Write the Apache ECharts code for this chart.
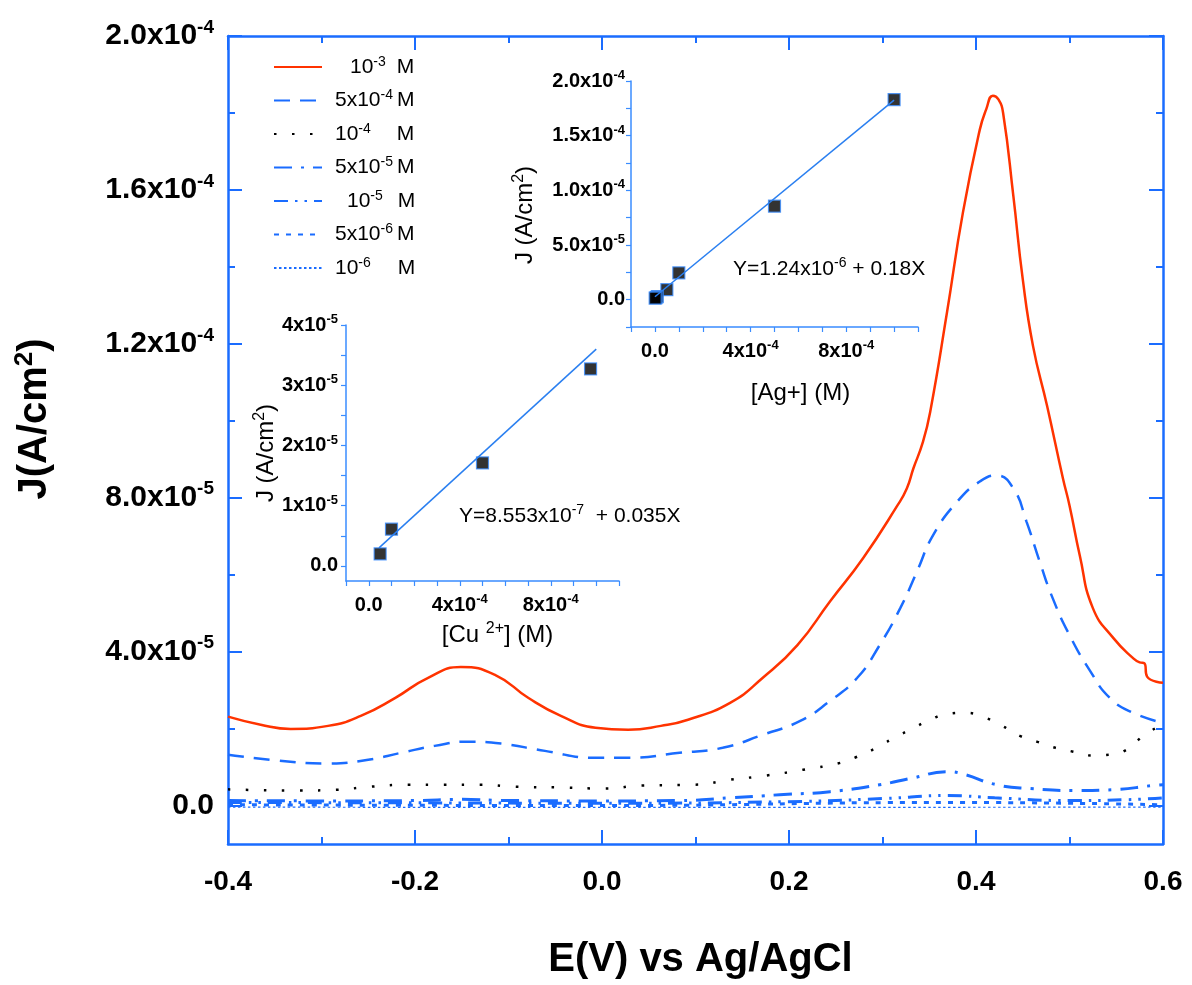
<!DOCTYPE html>
<html><head><meta charset="utf-8">
<script src="https://cdn.jsdelivr.net/npm/echarts@6/dist/echarts.min.js"></script>
<style>html,body{margin:0;padding:0;background:#fff}#c{width:1192px;height:985px}</style>
</head><body><div id="c"></div>
<script>
// ---------- DATA (E in V, J in units of 1e-5 A/cm2) ----------
const seriesKeys = ['1e-3', '5e-4', '1e-4', '5e-5', '1e-5', '5e-6', '1e-6'];
const red_1e3 = [[-0.40,2.31],[-0.365,2.10],[-0.333,1.99],[-0.293,2.07],[-0.258,2.33],[-0.221,2.80],[-0.186,3.32],[-0.151,3.60],[-0.114,3.39],[-0.079,2.80],[-0.044,2.33],[-0.007,2.02],[0.028,1.97],[0.063,2.07],[0.092,2.23],[0.137,2.67],[0.172,3.32],[0.209,4.17],[0.244,5.31],[0.279,6.42],[0.316,7.80],[0.326,8.24],[0.333,8.76],[0.343,9.43],[0.351,10.23],[0.369,12.82],[0.386,15.41],[0.404,17.56],[0.411,18.10],[0.418,18.45],[0.424,18.35],[0.429,18.0],[0.440,15.83],[0.450,13.68],[0.461,11.94],[0.476,10.39],[0.493,8.50],[0.500,7.80],[0.511,6.50],[0.525,5.13],[0.547,4.35],[0.568,3.83],[0.575,3.72],[0.580,3.70],[0.583,3.35],[0.600,3.19]];
const dash_5e4 = [[-0.40,1.32],[-0.347,1.17],[-0.293,1.09],[-0.250,1.19],[-0.215,1.37],[-0.179,1.55],[-0.143,1.66],[-0.108,1.61],[-0.061,1.42],[-0.008,1.24],[0.028,1.24],[0.083,1.37],[0.129,1.50],[0.172,1.84],[0.212,2.20],[0.244,2.72],[0.273,3.32],[0.297,4.17],[0.319,5.13],[0.337,6.09],[0.354,7.02],[0.380,7.90],[0.404,8.42],[0.422,8.58],[0.440,8.24],[0.454,7.38],[0.468,6.35],[0.482,5.39],[0.500,4.43],[0.522,3.50],[0.543,2.80],[0.568,2.41],[0.600,2.15]];
const dot_1e4 = [[-0.40,0.42],[-0.323,0.39],[-0.284,0.41],[-0.247,0.49],[-0.207,0.54],[-0.170,0.54],[-0.130,0.54],[-0.093,0.49],[-0.044,0.47],[0.003,0.44],[0.042,0.52],[0.099,0.54],[0.137,0.67],[0.176,0.78],[0.215,0.93],[0.255,1.11],[0.273,1.27],[0.292,1.48],[0.311,1.74],[0.332,2.00],[0.351,2.23],[0.369,2.38],[0.388,2.41],[0.407,2.31],[0.428,2.07],[0.447,1.81],[0.465,1.66],[0.485,1.50],[0.504,1.40],[0.524,1.30],[0.543,1.32],[0.561,1.45],[0.579,1.81],[0.600,2.12]];
const dashdot_5e5 = [[-0.40,0.13],[-0.30,0.12],[-0.20,0.13],[-0.15,0.16],[-0.10,0.13],[0.00,0.12],[0.083,0.13],[0.137,0.20],[0.190,0.28],[0.244,0.36],[0.297,0.54],[0.333,0.72],[0.369,0.88],[0.386,0.82],[0.422,0.54],[0.458,0.44],[0.511,0.39],[0.547,0.41],[0.589,0.52],[0.600,0.54]];
const dashdotdot_1e5 = [[-0.40,0.08],[-0.20,0.07],[0.00,0.06],[0.20,0.10],[0.30,0.18],[0.37,0.26],[0.42,0.20],[0.50,0.13],[0.56,0.15],[0.60,0.20]];
const short_5e6 = [[-0.40,0.02],[0.00,0.00],[0.37,0.08],[0.60,0.02]];
const fine_1e6 = [[-0.40,-0.04],[0.00,-0.05],[0.60,-0.04]];

// Inset Ag+: concentration in 1e-4 M, J in 1e-5 A/cm2
const agConc = [10, 5, 1, 0.5, 0.1, 0.05, 0.01];
const agJ = [18.3, 8.55, 2.45, 0.91, 0.28, 0.18, 0.14];
const agFit = [[0.0, 0.27], [10, 18.25]];
// Inset Cu2+
const cuConc = [0.5, 1, 5, 9.75];
const cuJ = [0.20, 0.61, 1.71, 3.27];
const cuFit = [[0.45, 0.30], [10, 3.60]];

// tick labels
const mainXTicks = [-0.4, -0.2, 0.0, 0.2, 0.4, 0.6];
const mainXText = ['-0.4', '-0.2', '0.0', '0.2', '0.4', '0.6'];
const mainYTicks = [0, 4, 8, 12, 16, 20];
const mainYText = [['0.0',''],['4.0x10','-5'],['8.0x10','-5'],['1.2x10','-4'],['1.6x10','-4'],['2.0x10','-4']];
const mainYMinor = [2, 6, 10, 14, 18];
const agYTicks = [0, 5, 10, 15, 20];
const agYText = [['0.0',''],['5.0x10','-5'],['1.0x10','-4'],['1.5x10','-4'],['2.0x10','-4']];
const cuYTicks = [0, 1, 2, 3, 4];
const cuYText = [['0.0',''],['1x10','-5'],['2x10','-5'],['3x10','-5'],['4x10','-5']];
const cuYMinorTicks = [0, 0.5, 1, 1.5, 2, 2.5, 3, 3.5, 4];
const insetXTicks = [0, 4, 8];
const insetXText = [['0.0',''],['4x10','-4'],['8x10','-4']];
const legendText = {
  '1e-3': ['', '10', '-3'], '5e-4': ['5x', '10', '-4'], '1e-4': ['', '10', '-4'],
  '5e-5': ['5x', '10', '-5'], '1e-5': ['', '10', '-5'], '5e-6': ['5x', '10', '-6'], '1e-6': ['', '10', '-6']
};

// ---------- STYLE ----------
const AX = '#1a6cff', RED = '#ff3300', BLUE = '#1a6cff', INS = '#3a8cff', FIT = '#2a7ff0';
const FONT = 'Liberation Sans, Arial, sans-serif';

function lookup(ticks, texts, v, bRich, sRich) {
  const i = ticks.findIndex(t => Math.abs(t - v) < 1e-6);
  if (i < 0) return '';
  const t = texts[i];
  return t[1] ? `{${bRich}|${t[0]}}{${sRich}|${t[1]}}` : `{${bRich}|${t[0]}}`;
}
const mainRich = {
  b: { fontSize: 30, fontWeight: 'bold', fontFamily: FONT, color: '#000', lineHeight: 36 },
  s: { fontSize: 19, fontWeight: 'bold', fontFamily: FONT, color: '#000', lineHeight: 19, verticalAlign: 'top' }
};
const insRich = {
  b: { fontSize: 20, fontWeight: 'bold', fontFamily: FONT, color: '#000', lineHeight: 24 },
  s: { fontSize: 13, fontWeight: 'bold', fontFamily: FONT, color: '#000', lineHeight: 13, verticalAlign: 'top' }
};
const nameRichBig = {
  t: { fontSize: 40, fontWeight: 'bold', fontFamily: FONT, color: '#000', lineHeight: 46 },
  s: { fontSize: 26, fontWeight: 'bold', fontFamily: FONT, color: '#000', lineHeight: 26, verticalAlign: 'top' }
};
const nameRichIns = {
  t: { fontSize: 24, fontFamily: FONT, color: '#000', lineHeight: 28 },
  s: { fontSize: 16, fontFamily: FONT, color: '#000', lineHeight: 16, verticalAlign: 'top' }
};

const legendGaps = { '1e-3': [23, 11], '5e-4': [8, 4], '1e-4': [8, 26], '5e-5': [8, 4], '1e-5': [20, 15], '5e-6': [8, 4], '1e-6': [8, 27] };
const legendRich = {
  n: { fontSize: 21, fontFamily: FONT, color: '#000', lineHeight: 24 },
  s: { fontSize: 14, fontFamily: FONT, color: '#000', lineHeight: 14, verticalAlign: 'top' }
};
[4, 8, 11, 15, 20, 23, 26, 27].forEach(w => { legendRich['g' + w] = { width: w, fontSize: 21, lineHeight: 24 }; });

const mainLines = [
  { key: '1e-3', data: red_1e3, color: RED, width: 2.5, type: 'solid' },
  { key: '5e-4', data: dash_5e4, color: BLUE, width: 2.5, type: [16, 10] },
  { key: '1e-4', data: dot_1e4, color: '#000', width: 2.5, type: [2.5, 15.5] },
  { key: '5e-5', data: dashdot_5e5, color: BLUE, width: 3, type: [18, 9, 3, 9] },
  { key: '1e-5', data: dashdotdot_1e5, color: BLUE, width: 3, type: [14, 7, 2.5, 7, 2.5, 7] },
  { key: '5e-6', data: short_5e6, color: BLUE, width: 3, type: [5, 7] },
  { key: '1e-6', data: fine_1e6, color: BLUE, width: 1.2, type: [2.5, 2.5] }
];

const tickStyle = { color: AX, width: 2 };
const markerStyle = { color: '#000', borderColor: INS, borderWidth: 1.2 };
const option = {
  backgroundColor: '#fff',
  animation: false,
  grid: [
    { left: 228, top: 36, width: 935, height: 812 },
    { left: 631, top: 81, width: 287, height: 246 },
    { left: 346, top: 325, width: 273, height: 256 }
  ],
  legend: {
    data: seriesKeys, orient: 'vertical', left: 268, top: 50, itemWidth: 48, itemHeight: 14, itemGap: 11,
    itemStyle: { color: 'rgba(0,0,0,0)', borderWidth: 0, opacity: 0 },
    textStyle: { rich: legendRich },
    formatter: k => {
      const t = legendText[k], g = legendGaps[k];
      return `{g${g[0]}| }` + (t[0] ? `{n|${t[0]}}` : '') + `{n|${t[1]}}{s|${t[2]}}{g${g[1]}| }{n|M}`;
    },
    selectedMode: false
  },
  xAxis: [
    { gridIndex: 0, type: 'value', position: 'bottom', min: -0.4, max: 0.6, interval: 0.2,
      axisLine: { onZero: false, lineStyle: { color: AX, width: 2.5 } }, splitLine: { show: false },
      axisTick: { inside: true, length: 14, lineStyle: tickStyle },
      minorTick: { show: true, splitNumber: 2, length: 7, lineStyle: tickStyle }, minorSplitLine: { show: false },
      axisLabel: { margin: 24, color: '#000', fontSize: 28, fontWeight: 'bold', fontFamily: FONT,
        formatter: v => { const i = mainXTicks.findIndex(t => Math.abs(t - v) < 1e-6); return i < 0 ? '' : mainXText[i]; } },
      name: 'E(V) vs Ag/AgCl', nameLocation: 'middle', nameGap: 96,
      nameTextStyle: { fontSize: 40, fontWeight: 'bold', fontFamily: FONT, color: '#000', padding: [0, 0, 0, 10] } },
    { gridIndex: 0, type: 'value', position: 'top', min: -0.4, max: 0.6, interval: 0.2,
      axisLine: { onZero: false, lineStyle: { color: AX, width: 2.5 } }, splitLine: { show: false },
      axisTick: { inside: true, length: 14, lineStyle: tickStyle },
      minorTick: { show: true, splitNumber: 2, length: 7, lineStyle: tickStyle }, minorSplitLine: { show: false },
      axisLabel: { show: false } },
    { gridIndex: 1, type: 'value', min: -1, max: 11, interval: 1,
      axisLine: { onZero: false, lineStyle: { color: INS, width: 1.5 } }, splitLine: { show: false },
      axisTick: { length: 5, lineStyle: { color: INS, width: 1.2 } },
      axisLabel: { customValues: insetXTicks, margin: 12, rich: insRich, formatter: v => lookup(insetXTicks, insetXText, v, 'b', 's') },
      name: '{t|[Ag+] (M)}', nameLocation: 'middle', nameGap: 52,
      nameTextStyle: { rich: nameRichIns, padding: [0, 0, 0, 52] } },
    { gridIndex: 2, type: 'value', min: -1, max: 11, interval: 1,
      axisLine: { onZero: false, lineStyle: { color: INS, width: 1.5 } }, splitLine: { show: false },
      axisTick: { length: 5, lineStyle: { color: INS, width: 1.2 } },
      axisLabel: { customValues: insetXTicks, margin: 12, rich: insRich, formatter: v => lookup(insetXTicks, insetXText, v, 'b', 's') },
      name: '{t|[Cu }{s|2+}{t|] (M)}', nameLocation: 'middle', nameGap: 40,
      nameTextStyle: { rich: nameRichIns, padding: [0, 0, 0, 30] } }
  ],
  yAxis: [
    { gridIndex: 0, type: 'value', position: 'left', min: -1, max: 20,
      axisLine: { onZero: false, lineStyle: { color: AX, width: 2.5 } }, splitLine: { show: false },
      axisTick: { inside: true, length: 14, customValues: mainYTicks, lineStyle: tickStyle },
      axisLabel: { customValues: mainYTicks, margin: 14, rich: mainRich, formatter: v => lookup(mainYTicks, mainYText, v, 'b', 's') },
      name: '{t|J(A/cm}{s|2}{t|)}', nameLocation: 'middle', nameGap: 170, nameRotate: 90,
      nameTextStyle: { rich: nameRichBig, padding: [0, 0, 0, 42] } },
    { gridIndex: 0, type: 'value', position: 'left', min: -1, max: 20,
      axisLine: { show: false, onZero: false }, splitLine: { show: false }, axisLabel: { show: false },
      axisTick: { inside: true, length: 7, customValues: mainYMinor, lineStyle: tickStyle } },
    { gridIndex: 0, type: 'value', position: 'right', min: -1, max: 20,
      axisLine: { onZero: false, lineStyle: { color: AX, width: 2.5 } }, splitLine: { show: false }, axisLabel: { show: false },
      axisTick: { inside: true, length: 14, customValues: mainYTicks, lineStyle: tickStyle } },
    { gridIndex: 0, type: 'value', position: 'right', min: -1, max: 20,
      axisLine: { show: false, onZero: false }, splitLine: { show: false }, axisLabel: { show: false },
      axisTick: { inside: true, length: 7, customValues: mainYMinor, lineStyle: tickStyle } },
    { gridIndex: 1, type: 'value', min: -2.5, max: 20, interval: 2.5,
      axisLine: { show: true, onZero: false, lineStyle: { color: INS, width: 1.5 } }, splitLine: { show: false },
      axisTick: { show: true, length: 5, lineStyle: { color: INS, width: 1.2 } },
      axisLabel: { customValues: agYTicks, margin: 6, rich: insRich, formatter: v => lookup(agYTicks, agYText, v, 'b', 's') },
      name: '{t|J (A/cm}{s|2}{t|)}', nameLocation: 'middle', nameGap: 92, nameRotate: 90,
      nameTextStyle: { rich: nameRichIns, padding: [0, 22, 0, 0] } },
    { gridIndex: 2, type: 'value', min: -0.25, max: 4,
      axisLine: { show: true, onZero: false, lineStyle: { color: INS, width: 1.5 } }, splitLine: { show: false },
      axisTick: { show: true, length: 5, customValues: cuYMinorTicks, lineStyle: { color: INS, width: 1.2 } },
      axisLabel: { customValues: cuYTicks, margin: 8, rich: insRich, formatter: v => lookup(cuYTicks, cuYText, v, 'b', 's') },
      name: '{t|J (A/cm}{s|2}{t|)}', nameLocation: 'middle', nameGap: 62, nameRotate: 90,
      nameTextStyle: { rich: nameRichIns, padding: [0, 0, 0, 0] } }
  ],
  graphic: [
    { type: 'text', left: 733, top: 256, style: { text: '{n|Y=1.24x10}{s|-6}{n| + 0.18X}',
      rich: { n: { fontSize: 21, fontFamily: FONT, fill: '#000', lineHeight: 26 }, s: { fontSize: 14, fontFamily: FONT, fill: '#000', lineHeight: 14, verticalAlign: 'top' } } } },
    { type: 'text', left: 459, top: 503, style: { text: '{n|Y=8.553x10}{s|-7}{n|  + 0.035X}',
      rich: { n: { fontSize: 21, fontFamily: FONT, fill: '#000', lineHeight: 26 }, s: { fontSize: 14, fontFamily: FONT, fill: '#000', lineHeight: 14, verticalAlign: 'top' } } } }
  ],
  series: [
    ...mainLines.map(s => ({
      name: s.key, type: 'line', xAxisIndex: 0, yAxisIndex: 0, data: s.data,
      showSymbol: false, symbol: 'none', smooth: 0.5,
      lineStyle: { color: s.color, width: s.width, type: s.type }, itemStyle: { color: s.color }
    })),
    { type: 'line', xAxisIndex: 2, yAxisIndex: 4, data: agFit, showSymbol: false, symbol: 'none',
      lineStyle: { color: FIT, width: 1.5 } },
    { type: 'scatter', xAxisIndex: 2, yAxisIndex: 4, data: agConc.map((c, i) => [c, agJ[i]]),
      symbol: 'rect', symbolSize: 12, itemStyle: markerStyle },
    { type: 'line', xAxisIndex: 3, yAxisIndex: 5, data: cuFit, showSymbol: false, symbol: 'none',
      lineStyle: { color: FIT, width: 1.5 } },
    { type: 'scatter', xAxisIndex: 3, yAxisIndex: 5, data: cuConc.map((c, i) => [c, cuJ[i]]),
      symbol: 'rect', symbolSize: 12, itemStyle: markerStyle }
  ]
};
const chart = echarts.init(document.getElementById('c'), null, { renderer: 'canvas' });
chart.setOption(option);
</script></body></html>
